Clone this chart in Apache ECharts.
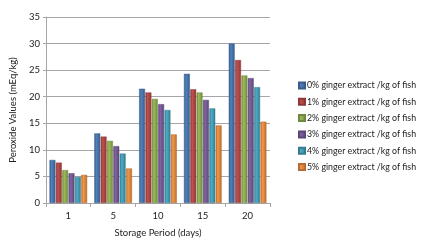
<!DOCTYPE html>
<html>
<head>
    <meta charset="UTF-8">
    <title>Peroxide Values</title>
    <script src="https://cdn.jsdelivr.net/npm/echarts/dist/echarts.min.js"></script>
    <style>
        html, body { margin: 0; padding: 0; background: #fff; }
        #main { width: 421px; height: 243px; }
    </style>
</head>
<body>
    <div id="main"></div>

    <script>
        // storage days on the x axis
        const days = ['1', '5', '10', '15', '20'];

        // one series per ginger extract level
        const seriesNames = [
            '0% ginger extract /kg of fish',
            '1% ginger extract /kg of fish',
            '2% ginger extract /kg of fish',
            '3% ginger extract /kg of fish',
            '4% ginger extract /kg of fish',
            '5% ginger extract /kg of fish'
        ];
        const ginger0 = [8.1, 13.1, 21.5, 24.3, 30.0];
        const ginger1 = [7.6, 12.5, 20.8, 21.4, 26.9];
        const ginger2 = [6.2, 11.7, 19.6, 20.8, 24.0];
        const ginger3 = [5.6, 10.7, 18.6, 19.4, 23.5];
        const ginger4 = [4.9, 9.3, 17.5, 17.8, 21.8];
        const ginger5 = [5.3, 6.5, 12.9, 14.6, 15.3];

        const colors = ['#4F81BD', '#C0504D', '#9BBB59', '#8064A2', '#4BACC6', '#F79646'];
        const darker = ['#385D8A', '#8C3836', '#71893F', '#5C4776', '#357D91', '#B66D31'];

        const font = 'Lato';
        const allValues = [ginger0, ginger1, ginger2, ginger3, ginger4, ginger5];

        const chart = echarts.init(document.getElementById('main'));
        const option = {
            animation: false,
            color: colors,
            textStyle: { fontFamily: font },
            grid: { left: 43, right: 151, top: 17, bottom: 40 },
            legend: {
                orient: 'vertical',
                left: 293,
                top: 76,
                itemWidth: 6,
                itemHeight: 6,
                itemGap: 7.3,
                icon: 'rect',
                textStyle: { fontFamily: font, fontSize: 8.8, color: '#222', padding: [0, 0, 0, -3] },
                data: seriesNames
            },
            xAxis: {
                type: 'category',
                data: days,
                name: 'Storage Period (days)',
                nameLocation: 'middle',
                nameGap: 25,
                nameTextStyle: { fontFamily: font, fontSize: 9.5, color: '#222' },
                axisLine: { lineStyle: { color: '#a6a6a6' } },
                axisTick: { show: true, lineStyle: { color: '#a6a6a6' }, length: 4 },
                axisLabel: { fontFamily: font, fontSize: 9.5, color: '#222', margin: 8 }
            },
            yAxis: {
                type: 'value',
                min: 0,
                max: 35,
                interval: 5,
                name: 'Peroxide Values (mEq/kg)',
                nameLocation: 'middle',
                nameGap: 26,
                nameTextStyle: { fontFamily: font, fontSize: 9.5, color: '#222' },
                axisLine: { show: true, lineStyle: { color: '#a6a6a6' } },
                axisTick: { show: true, lineStyle: { color: '#a6a6a6' }, length: 3 },
                axisLabel: { fontFamily: font, fontSize: 9.5, color: '#222', margin: 6 },
                splitLine: { lineStyle: { color: '#a6a6a6', width: 1 } }
            },
            series: seriesNames.map((name, i) => ({
                name: name,
                type: 'bar',
                data: allValues[i],
                barGap: '8%',
                barCategoryGap: '16%',
                itemStyle: {
                    color: new echarts.graphic.LinearGradient(0, 0, 1, 0, [
                        { offset: 0, color: darker[i] },
                        { offset: 0.35, color: colors[i] },
                        { offset: 1, color: darker[i] }
                    ]),
                    borderColor: darker[i],
                    borderWidth: 0.5
                }
            }))
        };

        chart.setOption(option);
    </script>
</body>
</html>
